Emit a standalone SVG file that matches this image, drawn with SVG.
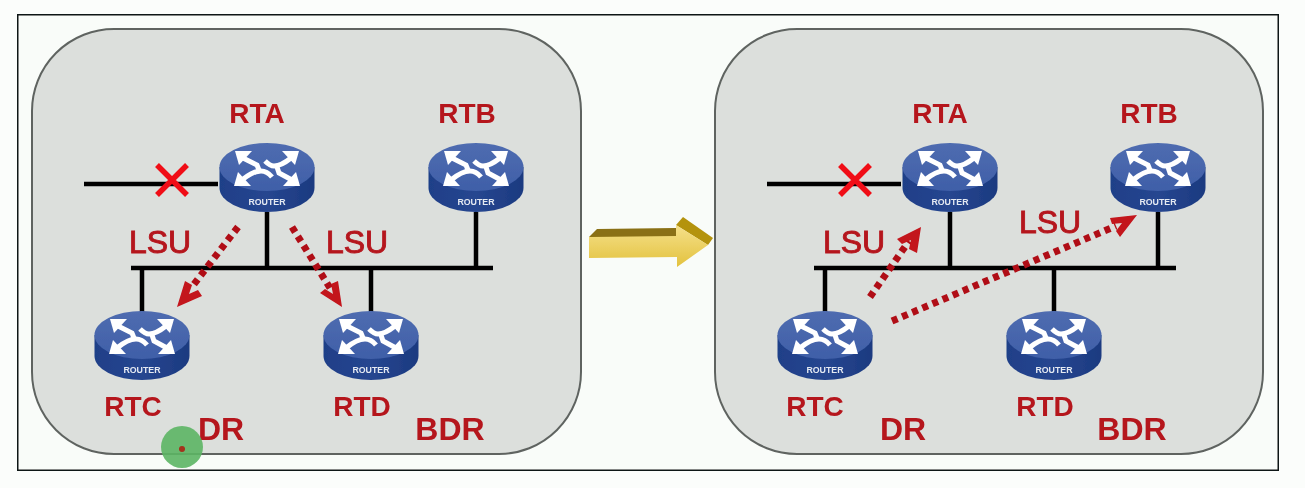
<svg xmlns="http://www.w3.org/2000/svg" xmlns:xlink="http://www.w3.org/1999/xlink" width="1305" height="488" viewBox="0 0 1305 488">
<style>
.panel{fill:#dcdfdc;stroke:#5f6461;stroke-width:2}
.wire{stroke:#000;stroke-width:4.500;fill:none}
.cross{stroke:#f00c12;stroke-width:5.500;fill:none}
.dots{stroke:#b00f18;stroke-width:7;stroke-dasharray:6 5;fill:none}
.head{fill:#c3121a}
.lbl{font-family:"Liberation Sans",Arial,sans-serif;font-weight:700;fill:#b5161e;text-anchor:middle}
.name{font-size:28px}
.role{font-size:32px}
.lsu{font-family:"Liberation Sans",Arial,sans-serif;font-size:32px;fill:#b5161e;stroke:#b5161e;stroke-width:.9;text-anchor:middle}
.rt{font-family:"Liberation Sans",Arial,sans-serif;font-size:8.800px;font-weight:700;fill:#e4e9f2;text-anchor:middle}
</style>
<defs>
<filter id="soft" x="0" y="0" width="100%" height="100%"><feGaussianBlur stdDeviation="0.45"/></filter>
<linearGradient id="top" x1="0" y1="0" x2="0" y2="1"><stop offset="0" stop-color="#4f6cb0"/><stop offset="1" stop-color="#3f5fa8"/></linearGradient>
<linearGradient id="side" x1="0" y1="0" x2="1" y2="0"><stop offset="0" stop-color="#1f3f88"/><stop offset=".5" stop-color="#264690"/><stop offset="1" stop-color="#1c3a80"/></linearGradient>
<linearGradient id="gold" x1="0" y1="0" x2="0" y2="1"><stop offset="0" stop-color="#f5e08a"/><stop offset="1" stop-color="#e3c23e"/></linearGradient>
<g id="router">
<path d="M-47.500,0 V21 A47.500,24 0 0 0 47.500,21 V0 Z" fill="url(#side)"/>
<ellipse cx="0" cy="0" rx="47.500" ry="24" fill="url(#top)"/>
<g fill="none" stroke="#fff" stroke-width="5">
<path d="M-24,-9 L-10,-2 L-8,3"/>
<path d="M24,-9 Q14,-1 7,-1 Q3,-1 -2,-6"/>
<path d="M-25,13 Q-14,4 -6,4 Q0,4 5,10"/>
<path d="M25,13 L12,6 L9,-3"/>
</g>
<g fill="#fff">
<polygon points="-32,-16 -15,-16 -28,-2"/>
<polygon points="32,-16 15,-16 28,-2"/>
<polygon points="-33,19 -29,5 -16,19"/>
<polygon points="33,19 29,5 16,19"/>
</g>
</g>
</defs>
<rect width="1305" height="488" fill="#fbfdfb"/>
<g id="diagram" filter="url(#soft)">
<rect x="17" y="14" width="1262" height="457" fill="#f9fcf9" stroke="#101312" stroke-width="3"/>
<g id="panels">
<rect class="panel" x="32" y="29" width="549" height="425" rx="82"/>
<rect class="panel" x="715" y="29" width="548" height="425" rx="82"/>
</g>
<g id="connectors">
<path class="wire" d="M84,184H218M131,268H493M142,268V316M267,212V268M371,268V316M476,212V268"/>
<path class="wire" d="M767,184H901M814,268H1176M825,268V316M950,212V268M1054,268V316M1158,212V268"/>
<path class="cross" d="M157,165L187,195M187,165L157,195"/>
<path class="cross" d="M840,165L870,195M870,165L840,195"/>
<path class="dots" d="M238,227L191,288"/>
<polygon class="head" points="177,307 185,281 192,285 189,294 198,290 202,296"/>
<path class="dots" d="M292,227L330,288"/>
<polygon class="head" points="342,307 320,293 325,289 333,294 331,284 338,281"/>
<path class="dots" d="M870,297L909,241"/>
<polygon class="head" points="921,227 897,239 902,244 911,240 909,249 917,253"/>
<path class="dots" d="M892,321L1116,226"/>
<polygon class="head" points="1137,215 1110,218 1112,224 1122,223 1116,231 1120,237"/>
</g>
<g id="rta-left"><use href="#router" xlink:href="#router" x="267" y="167"/><text class="rt" x="267" y="205">ROUTER</text><text class="lbl name" x="257" y="123">RTA</text></g>
<g id="rtb-left"><use href="#router" xlink:href="#router" x="476" y="167"/><text class="rt" x="476" y="205">ROUTER</text><text class="lbl name" x="467" y="123">RTB</text></g>
<g id="rtc-left"><use href="#router" xlink:href="#router" x="142" y="335"/><text class="rt" x="142" y="373">ROUTER</text><text class="lbl name" x="133" y="416">RTC</text></g>
<g id="rtd-left"><use href="#router" xlink:href="#router" x="371" y="335"/><text class="rt" x="371" y="373">ROUTER</text><text class="lbl name" x="362" y="416">RTD</text></g>
<g id="rta-right"><use href="#router" xlink:href="#router" x="950" y="167"/><text class="rt" x="950" y="205">ROUTER</text><text class="lbl name" x="940" y="123">RTA</text></g>
<g id="rtb-right"><use href="#router" xlink:href="#router" x="1158" y="167"/><text class="rt" x="1158" y="205">ROUTER</text><text class="lbl name" x="1149" y="123">RTB</text></g>
<g id="rtc-right"><use href="#router" xlink:href="#router" x="825" y="335"/><text class="rt" x="825" y="373">ROUTER</text><text class="lbl name" x="815" y="416">RTC</text></g>
<g id="rtd-right"><use href="#router" xlink:href="#router" x="1054" y="335"/><text class="rt" x="1054" y="373">ROUTER</text><text class="lbl name" x="1045" y="416">RTD</text></g>
<g id="labels">
<text class="lsu" x="160" y="253">LSU</text>
<text class="lsu" x="357" y="253">LSU</text>
<text class="lsu" x="854" y="253">LSU</text>
<text class="lsu" x="1050" y="233">LSU</text>
<text class="lbl role" x="221" y="440">DR</text>
<text class="lbl role" x="450" y="440">BDR</text>
<text class="lbl role" x="903" y="440">DR</text>
<text class="lbl role" x="1132" y="440">BDR</text>
</g>
<g id="transition-arrow">
<polygon points="589,237 597,229 676,228 676,237" fill="#8a6f12"/>
<polygon points="676,225 683,217 713,238 708,245" fill="#b4930f"/>
<polygon points="589,237 676,236 676,225 708,245 677,267 677,257 589,258" fill="url(#gold)"/>
</g>
<g id="pointer">
<circle cx="182" cy="447" r="21" fill="#5cb564" fill-opacity=".9"/>
<circle cx="182" cy="449" r="3" fill="#a4301a"/>
</g>
</g>
</svg>
